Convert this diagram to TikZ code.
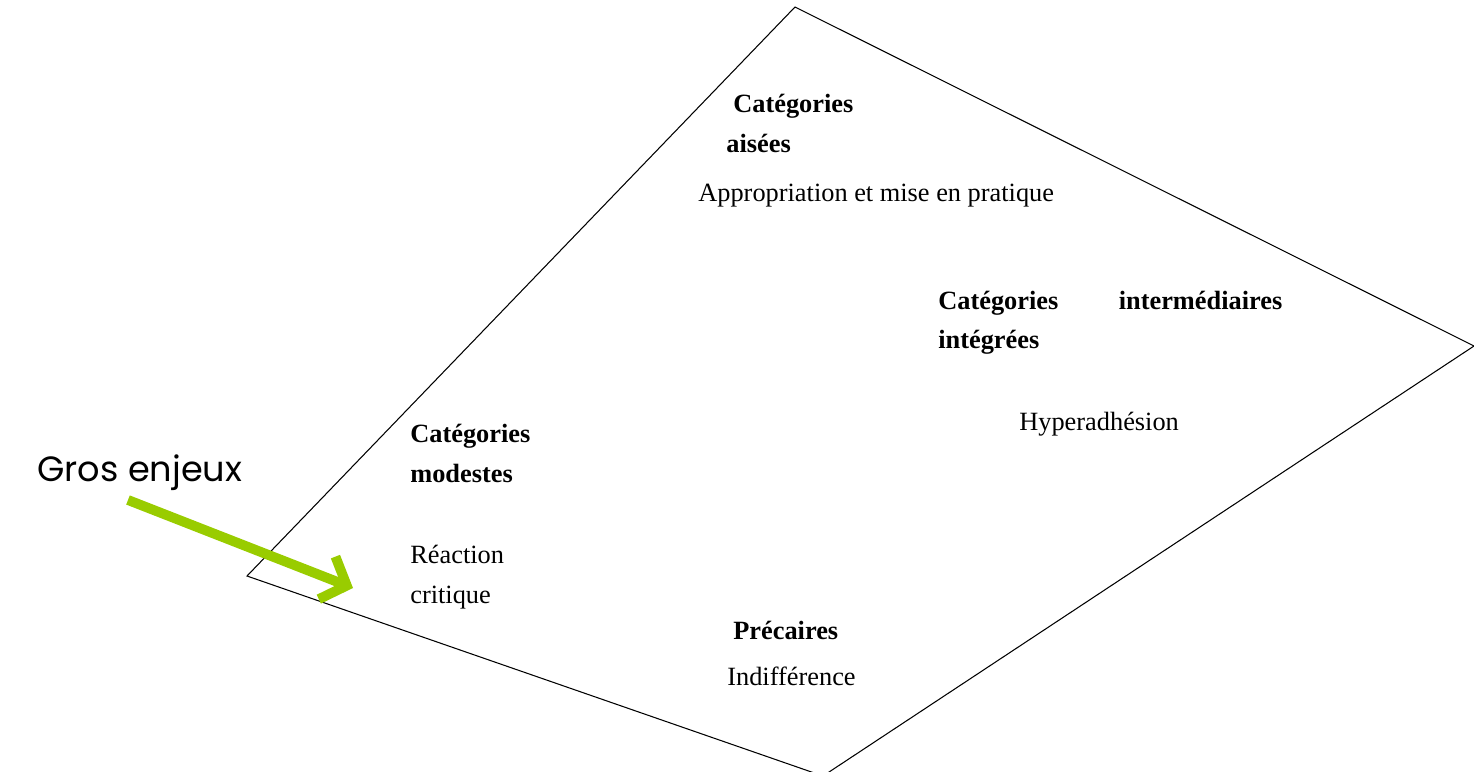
\documentclass[tikz,border=0pt]{standalone}
\usepackage{fontspec}
\setmainfont{Liberation Serif}
\newfontfamily\grosfont{Poppins}
\usetikzlibrary{arrows.meta}
\definecolor{vertanis}{RGB}{153,204,0}

\begin{document}
\begin{tikzpicture}[
    x=0.02cm, y=-0.02cm,
    cat/.style={anchor=base west, inner sep=0pt, align=left, font=\fontsize{15}{22.3}\selectfont\bfseries},
    reac/.style={anchor=base west, inner sep=0pt, align=left, font=\fontsize{15}{22.5}\selectfont},
    fleche/.style={-{Straight Barb[length=12pt,width=26pt]}, line width=5.6pt, draw=vertanis}
]
    \useasboundingbox (0,0) rectangle (1474,771);

    % Losange
    \coordinate (haut) at (795,7);
    \coordinate (droite) at (1474,346);
    \coordinate (bas) at (823,776);
    \coordinate (gauche) at (247,576);
    \draw[line width=0.6pt] (haut) -- (droite) -- (bas) -- (gauche) -- cycle;

    % Categories
    \node[cat] (aisees) at (733,112) {Catégories};
    \node[cat] (aiseesb) at (726,152) {aisées};
    \node[cat, text width=6.88cm] (interm) at (938,309) {Catégories \hfill intermédiaires\\intégrées};
    \node[cat] (modestes) at (410,482) {Catégories\\modestes};
    \node[cat] (precaires) at (733,639) {Précaires};

    % Reactions
    \node[reac] (appro) at (698,201) {Appropriation et mise en pratique};
    \node[reac] (hyper) at (1019,430) {Hyperadhésion};
    \node[reac] (critique) at (410,603) {Réaction\\critique};
    \node[reac] (indiff) at (727,685) {Indifférence};

    % Gros enjeux
    \node[anchor=base west, inner sep=0pt, font=\grosfont\fontsize{20}{24}\selectfont] (gros) at (37,481) {Gros enjeux};
    \coordinate (depart) at (128,500);
    \coordinate (pointe) at (353,588);
    \draw[fleche] (depart) -- (pointe);
\end{tikzpicture}
\end{document}
